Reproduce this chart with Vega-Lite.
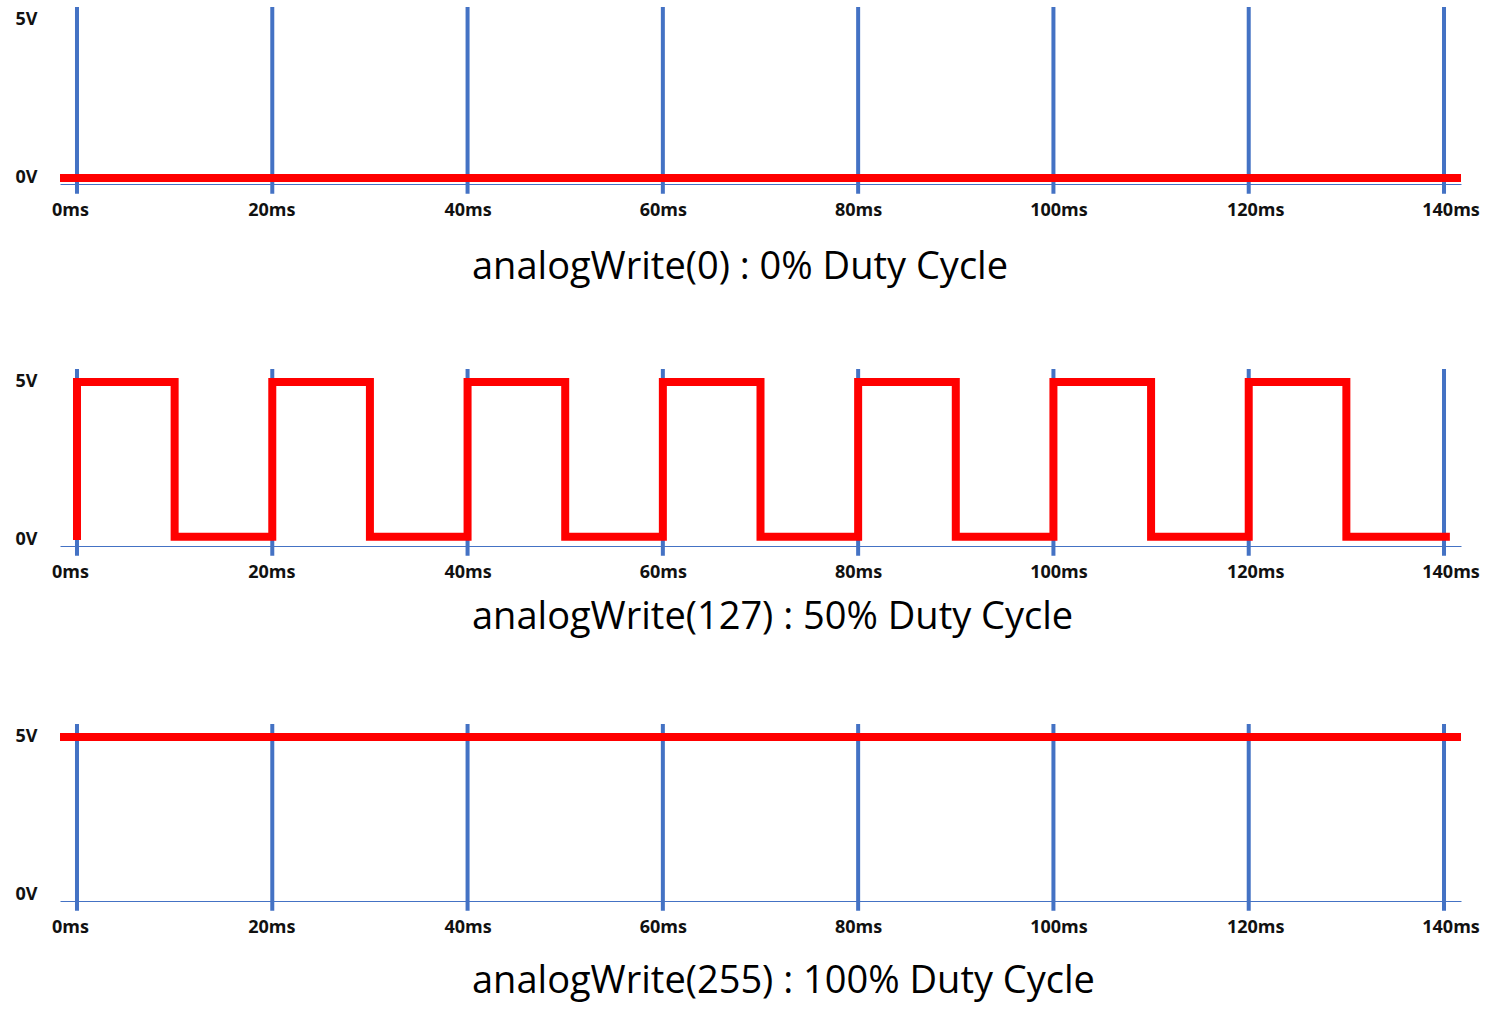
{
  "$schema": "https://vega.github.io/schema/vega-lite/v6.json",
  "padding": {"left": 15, "top": 5, "right": 5, "bottom": 5},
  "background": "white",
  "datasets": {
    "ticks": [{"ms": 0}, {"ms": 20}, {"ms": 40}, {"ms": 60}, {"ms": 80}, {"ms": 100}, {"ms": 120}, {"ms": 140}],
    "zero": [{"ms": -1.74, "v": 0}, {"ms": 141.74, "v": 0}],
    "full": [{"ms": -1.74, "v": 5}, {"ms": 141.74, "v": 5}],
    "half": [
      {"ms": 0, "v": 0}, {"ms": 0, "v": 5}, {"ms": 10, "v": 5}, {"ms": 10, "v": 0.1},
      {"ms": 20, "v": 0.1}, {"ms": 20, "v": 5}, {"ms": 30, "v": 5}, {"ms": 30, "v": 0.1},
      {"ms": 40, "v": 0.1}, {"ms": 40, "v": 5}, {"ms": 50, "v": 5}, {"ms": 50, "v": 0.1},
      {"ms": 60, "v": 0.1}, {"ms": 60, "v": 5}, {"ms": 70, "v": 5}, {"ms": 70, "v": 0.1},
      {"ms": 80, "v": 0.1}, {"ms": 80, "v": 5}, {"ms": 90, "v": 5}, {"ms": 90, "v": 0.1},
      {"ms": 100, "v": 0.1}, {"ms": 100, "v": 5}, {"ms": 110, "v": 5}, {"ms": 110, "v": 0.1},
      {"ms": 120, "v": 0.1}, {"ms": 120, "v": 5}, {"ms": 130, "v": 5}, {"ms": 130, "v": 0.1},
      {"ms": 140.6, "v": 0.1}
    ]
  },
  "config": {
    "view": {"stroke": null},
    "font": "Open Sans",
    "axisX": {
      "ticks": false, "grid": false,
      "domainColor": "#4472C4", "domainWidth": 1,
      "labelFontSize": 18, "labelFontWeight": "bold", "labelColor": "#111111",
      "labelPadding": 17, "labelFont": "Open Sans",
      "labelOffset": {"expr": "datum.value == 0 ? -7 : datum.value == 20 ? -1 : datum.value == 100 ? 5 : datum.value >= 120 ? 6.5 : 0"}
    },
    "axisY": {
      "ticks": false, "grid": false, "domain": false,
      "labelAlign": "left", "labelBaseline": "middle", "labelPadding": 45,
      "labelFontSize": 18, "labelFontWeight": "bold", "labelColor": "#111111",
      "labelFont": "Open Sans"
    },
    "title": {
      "orient": "bottom", "anchor": "start", "frame": "group", "dx": 412,
      "fontSize": 38, "fontWeight": "normal", "font": "Open Sans", "color": "#000000", "offset": 24
    }
  },
  "bounds": "flush",
  "spacing": 185,
  "vconcat": [
    {
      "width": 1401, "height": 177,
      "title": {"text": "analogWrite(0) : 0% Duty Cycle", "offset": 30},
      "layer": [
        {
          "data": {"name": "ticks"},
          "mark": {"type": "rule", "color": "#4472C4", "strokeWidth": 4, "clip": false},
          "encoding": {
            "x": {"field": "ms", "type": "quantitative", "scale": {"domain": [-1.74, 141.74], "nice": false},
                  "axis": {"values": [0, 20, 40, 60, 80, 100, 120, 140], "labelExpr": "datum.value + 'ms'", "title": null}},
            "y": {"datum": -0.5, "type": "quantitative", "scale": {"domain": [-0.19, 5.41], "nice": false},
                  "axis": {"values": [0, 5], "labelExpr": "datum.value + 'V'", "title": null}},
            "y2": {"datum": 5.41}
          }
        },
        {
          "data": {"name": "zero"},
          "mark": {"type": "line", "color": "#FF0000", "strokeWidth": 8, "strokeJoin": "miter", "strokeCap": "butt"},
          "encoding": {
            "x": {"field": "ms", "type": "quantitative"},
            "y": {"field": "v", "type": "quantitative"}
          }
        }
      ]
    },
    {
      "bounds": "flush",
      "spacing": 178,
      "vconcat": [
        {
          "width": 1401, "height": 177,
          "title": {"text": "analogWrite(127) : 50% Duty Cycle", "offset": 18},
          "layer": [
            {
              "data": {"name": "ticks"},
              "mark": {"type": "rule", "color": "#4472C4", "strokeWidth": 4, "clip": false},
              "encoding": {
                "x": {"field": "ms", "type": "quantitative", "scale": {"domain": [-1.74, 141.74], "nice": false},
                      "axis": {"values": [0, 20, 40, 60, 80, 100, 120, 140], "labelExpr": "datum.value + 'ms'", "title": null}},
                "y": {"datum": -0.5, "type": "quantitative", "scale": {"domain": [-0.19, 5.41], "nice": false},
                      "axis": {"values": [0, 5], "labelExpr": "datum.value + 'V'", "title": null}},
                "y2": {"datum": 5.41}
              }
            },
            {
              "data": {"name": "half"},
              "mark": {"type": "line", "color": "#FF0000", "strokeWidth": 8, "strokeJoin": "miter", "strokeCap": "butt"},
              "encoding": {
                "x": {"field": "ms", "type": "quantitative"},
                "y": {"field": "v", "type": "quantitative"},
                "order": {"value": 0}
              }
            }
          ]
        },
        {
          "width": 1401, "height": 177,
          "title": {"text": "analogWrite(255) : 100% Duty Cycle", "offset": 27},
          "layer": [
            {
              "data": {"name": "ticks"},
              "mark": {"type": "rule", "color": "#4472C4", "strokeWidth": 4, "clip": false},
              "encoding": {
                "x": {"field": "ms", "type": "quantitative", "scale": {"domain": [-1.74, 141.74], "nice": false},
                      "axis": {"values": [0, 20, 40, 60, 80, 100, 120, 140], "labelExpr": "datum.value + 'ms'", "title": null}},
                "y": {"datum": -0.5, "type": "quantitative", "scale": {"domain": [-0.19, 5.41], "nice": false},
                      "axis": {"values": [0, 5], "labelExpr": "datum.value + 'V'", "title": null}},
                "y2": {"datum": 5.41}
              }
            },
            {
              "data": {"name": "full"},
              "mark": {"type": "line", "color": "#FF0000", "strokeWidth": 8, "strokeJoin": "miter", "strokeCap": "butt"},
              "encoding": {
                "x": {"field": "ms", "type": "quantitative"},
                "y": {"field": "v", "type": "quantitative"}
              }
            }
          ]
        }
      ]
    }
  ]
}
